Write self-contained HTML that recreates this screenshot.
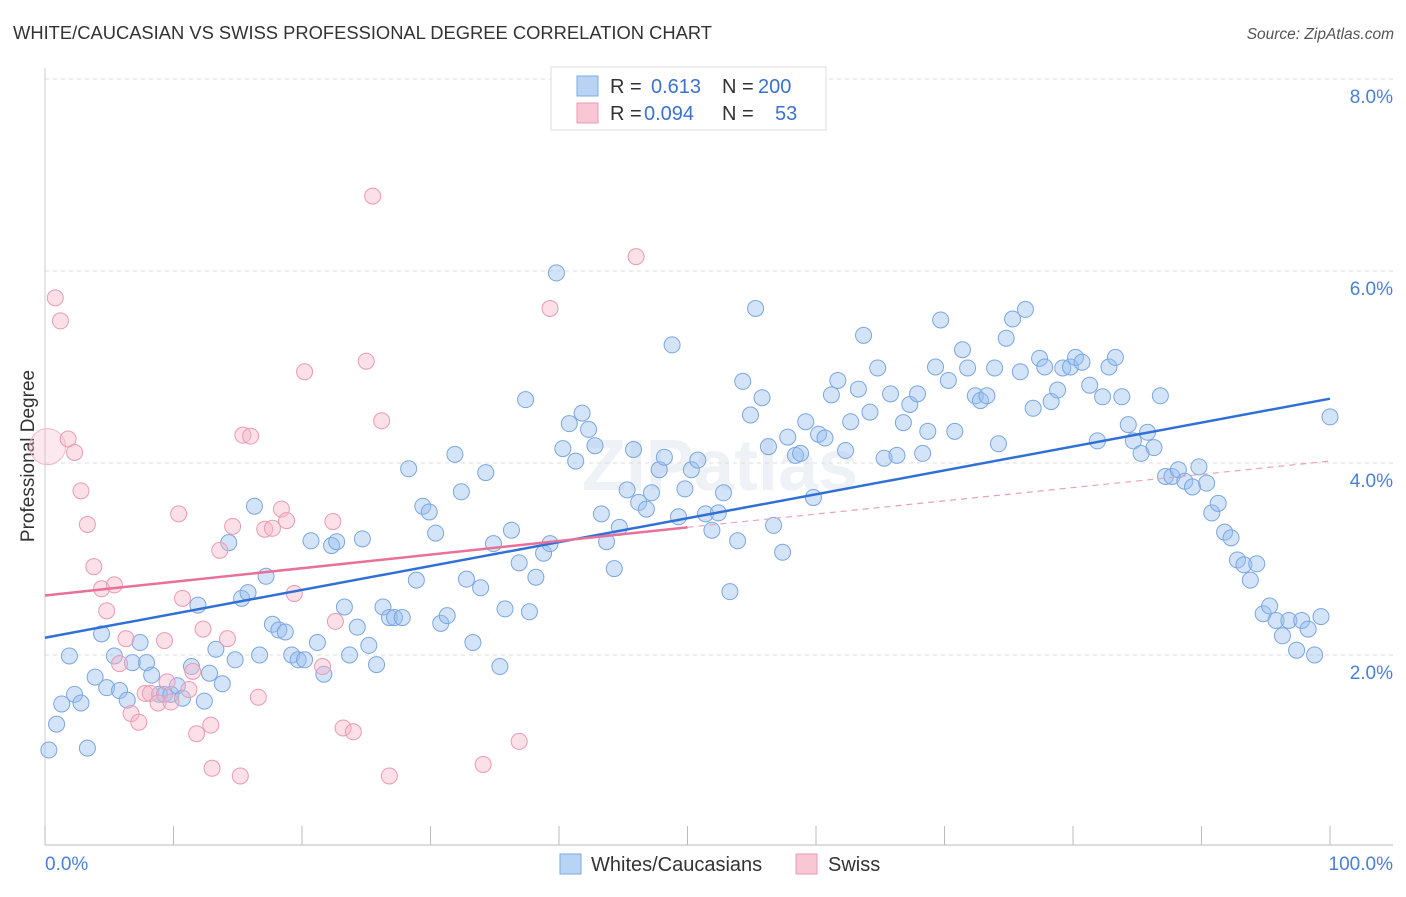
<!DOCTYPE html>
<html><head><meta charset="utf-8"><style>
body{margin:0;background:#fff;font-family:"Liberation Sans",sans-serif;}
svg text{font-family:"Liberation Sans",sans-serif;}
</style></head><body>
<svg id="chart" width="1406" height="892" xmlns="http://www.w3.org/2000/svg">
<text x="13" y="39" font-size="18" fill="#333" textLength="699" lengthAdjust="spacingAndGlyphs">WHITE/CAUCASIAN VS SWISS PROFESSIONAL DEGREE CORRELATION CHART</text>
<text x="1394" y="39" font-size="15.5" fill="#555" font-style="italic" text-anchor="end">Source: ZipAtlas.com</text>
<text transform="translate(34,456) rotate(-90)" font-size="19" fill="#333" text-anchor="middle">Professional Degree</text>
<text x="720" y="490" font-size="72" fill="#eef1f6" text-anchor="middle" font-weight="bold">ZIPatlas</text>
<g id="grid"></g><g id="pts"></g><g id="trend"></g>
<g>
<rect x="551" y="67" width="275" height="63" fill="#fff" stroke="#ddd"/>
<rect x="577" y="76" width="21" height="20" fill="#b9d3f4" stroke="#7fa8e0"/>
<rect x="577" y="103" width="21" height="20" fill="#f8c6d4" stroke="#eb9ab3"/>
<text x="610" y="93" font-size="20" fill="#333">R =</text>
<text x="651" y="93" font-size="20" fill="#3a72d0">0.613</text>
<text x="722" y="93" font-size="20" fill="#333">N =</text>
<text x="758" y="93" font-size="20" fill="#3a72d0">200</text>
<text x="610" y="120" font-size="20" fill="#333">R =</text>
<text x="644" y="120" font-size="20" fill="#3a72d0">0.094</text>
<text x="722" y="120" font-size="20" fill="#333">N =</text>
<text x="775" y="120" font-size="20" fill="#3a72d0">53</text>
</g>
<g>
<rect x="560" y="854" width="21" height="20" fill="#b9d3f4" stroke="#7fa8e0"/>
<text x="591" y="871" font-size="20" fill="#333">Whites/Caucasians</text>
<rect x="796" y="854" width="21" height="20" fill="#f8c6d4" stroke="#eb9ab3"/>
<text x="828" y="871" font-size="20" fill="#333">Swiss</text>
</g>
</svg>
<script>
const yTicks=[2,4,6,8];
const xTickVals=[0,10,20,30,40,50,60,70,80,90,100];
const blueX=[0.3,0.9,1.3,1.9,2.3,2.8,3.3,3.9,4.4,4.8,5.4,5.8,6.4,6.8,7.4,7.9,8.3,8.9,9.3,9.8,10.3,10.7,11.4,11.9,12.4,12.8,13.3,13.8,14.3,14.8,15.3,15.8,16.3,16.7,17.2,17.7,18.2,18.7,19.2,19.7,20.2,20.7,21.2,21.7,22.3,22.7,23.3,23.7,24.3,24.7,25.2,25.8,26.3,26.8,27.2,27.8,28.3,28.9,29.4,29.9,30.4,30.8,31.3,31.9,32.4,32.8,33.3,33.9,34.3,34.9,35.4,35.8,36.3,36.9,37.4,37.7,38.2,38.8,39.3,39.8,40.3,40.8,41.3,41.8,42.3,42.8,43.3,43.7,44.3,44.7,45.3,45.8,46.2,46.8,47.2,47.8,48.2,48.8,49.3,49.8,50.3,50.8,51.4,51.9,52.4,52.8,53.3,53.9,54.3,54.9,55.3,55.8,56.3,56.7,57.4,57.8,58.4,58.8,59.2,59.8,60.2,60.7,61.2,61.7,62.3,62.7,63.3,63.7,64.2,64.8,65.3,65.8,66.3,66.8,67.3,67.9,68.3,68.7,69.3,69.7,70.3,70.8,71.4,71.8,72.4,72.8,73.3,73.9,74.2,74.8,75.3,75.9,76.3,76.9,77.4,77.8,78.3,78.8,79.2,79.8,80.2,80.7,81.3,81.9,82.3,82.8,83.3,83.8,84.3,84.7,85.3,85.8,86.3,86.8,87.2,87.7,88.2,88.7,89.3,89.8,90.4,90.8,91.3,91.8,92.3,92.8,93.3,93.8,94.3,94.8,95.3,95.8,96.3,96.8,97.4,97.8,98.3,98.8,99.3,100];
const blueY=[1.01,1.28,1.49,1.99,1.59,1.50,1.03,1.77,2.22,1.66,1.99,1.63,1.53,1.92,2.13,1.92,1.79,1.59,1.59,1.59,1.68,1.55,1.88,2.52,1.52,1.81,2.06,1.70,3.17,1.95,2.59,2.65,3.55,2.00,2.82,2.32,2.26,2.24,2.00,1.95,1.95,3.19,2.13,1.80,3.14,3.18,2.50,2.00,2.29,3.21,2.10,1.90,2.50,2.39,2.39,2.39,3.94,2.78,3.55,3.49,3.27,2.33,2.41,4.09,3.70,2.79,2.13,2.70,3.90,3.16,1.88,2.48,3.30,2.96,4.66,2.45,2.81,3.06,3.16,5.98,4.15,4.41,4.02,4.52,4.35,4.18,3.47,3.18,2.90,3.33,3.72,4.14,3.59,3.52,3.69,3.93,4.06,5.23,3.44,3.73,3.93,4.03,3.47,3.30,3.48,3.69,2.66,3.19,4.85,4.50,5.61,4.68,4.17,3.35,3.07,4.27,4.08,4.10,4.43,3.64,4.30,4.26,4.71,4.86,4.13,4.43,4.77,5.33,4.53,4.99,4.05,4.72,4.08,4.42,4.61,4.72,4.10,4.33,5.00,5.49,4.86,4.33,5.18,4.99,4.70,4.65,4.70,4.99,4.20,5.30,5.50,4.95,5.60,4.57,5.09,5.00,4.64,4.76,4.99,5.00,5.10,5.05,4.81,4.23,4.69,5.00,5.10,4.69,4.40,4.23,4.10,4.32,4.16,4.70,3.86,3.86,3.93,3.81,3.75,3.96,3.79,3.48,3.58,3.28,3.22,2.99,2.94,2.78,2.95,2.43,2.51,2.36,2.20,2.36,2.05,2.36,2.27,2.00,2.40,4.48];
const pinkX=[0.2,0.8,1.2,1.8,2.3,2.8,3.3,3.8,4.4,4.8,5.4,5.8,6.3,6.7,7.3,7.8,8.2,8.8,9.3,9.5,9.8,10.4,10.7,11.2,11.5,11.8,12.3,12.9,13.0,13.6,14.2,14.6,15.2,15.4,16.0,16.6,17.1,17.7,18.4,18.8,19.4,20.2,21.6,22.4,22.6,23.2,24.0,25.0,25.5,26.2,26.8,34.1,36.9,39.3,46.0];
const pinkY=[4.17,5.72,5.48,4.25,4.11,3.71,3.36,2.92,2.69,2.46,2.73,1.91,2.17,1.39,1.30,1.60,1.60,1.50,2.15,1.72,1.51,3.47,2.59,1.64,1.83,1.18,2.27,1.27,0.82,3.09,2.17,3.34,0.74,4.29,4.28,1.56,3.31,3.32,3.52,3.40,2.64,4.95,1.88,3.39,2.35,1.24,1.20,5.06,6.78,4.44,0.74,0.86,1.10,5.61,6.15];
const blueTrend=[2.18,4.67];
const pinkTrend=[2.62,3.33,4.02];
const NS='http://www.w3.org/2000/svg';
const X=v=>45+v*12.85, Y=v=>847-v*96;
function mk(tag,attrs,parent){const e=document.createElementNS(NS,tag);for(const k in attrs)e.setAttribute(k,attrs[k]);parent.appendChild(e);return e;}
const grid=document.getElementById('grid');
yTicks.forEach(t=>{
 const l=mk('line',{x1:45,x2:1393,y1:Y(t),y2:Y(t),stroke:'#ddd','stroke-dasharray':'4,4'},grid);
 
 
 const tx=mk('text',{x:1393,y:Y(t)+24,'font-size':19,fill:'#4a7fd6','text-anchor':'end'},grid);
 tx.textContent=t.toFixed(1)+'%';
 
 
});
const ax=mk('line',{x1:45,x2:1393,y1:845,y2:845,stroke:'#bbb'},grid);


const ay=mk('line',{x1:45,x2:45,y1:68,y2:845,stroke:'#ccc'},grid);


xTickVals.forEach(t=>{
 const l=mk('line',{x1:X(t),x2:X(t),y1:826,y2:845,stroke:'#bbb'},grid);
 
 
});
[[0,'start','0.0%'],[100,'end','100.0%']].forEach(([v,a,s])=>{
 const tx=mk('text',{x:v===0?45:1393,y:870,'font-size':19,fill:'#4a7fd6','text-anchor':a},grid);
 tx.textContent=s;
 
 
});
const pts=document.getElementById('pts');
blueX.forEach((x,i)=>{
 const c=mk('circle',{cx:X(x),cy:Y(blueY[i]),r:8,fill:'rgba(150,190,240,0.42)',stroke:'#7ba6e0','stroke-width':1},pts);
 
 
});
pinkX.forEach((x,i)=>{
 const c=mk('circle',{cx:X(x),cy:Y(pinkY[i]),r:i===0?18:8,fill:i===0?'rgba(246,180,200,0.3)':'rgba(246,180,200,0.42)',stroke:i===0?'#f0b8c8':'#ea9ab2','stroke-width':1},pts);
 
 
});
const tr=document.getElementById('trend');
const bl=mk('line',{x1:X(0),y1:Y(blueTrend[0]),x2:X(100),y2:Y(blueTrend[1]),stroke:'#2f6fd6','stroke-width':2.5},tr);


const pl=mk('line',{x1:X(0),y1:Y(pinkTrend[0]),x2:X(50),y2:Y(pinkTrend[1]),stroke:'#e8709a','stroke-width':2.5},tr);


const pd=mk('line',{x1:X(50),y1:Y(pinkTrend[1]),x2:X(100),y2:Y(pinkTrend[2]),stroke:'#e8a0b8','stroke-width':1.2,'stroke-dasharray':'6,5'},tr);


</script>
</body></html>
